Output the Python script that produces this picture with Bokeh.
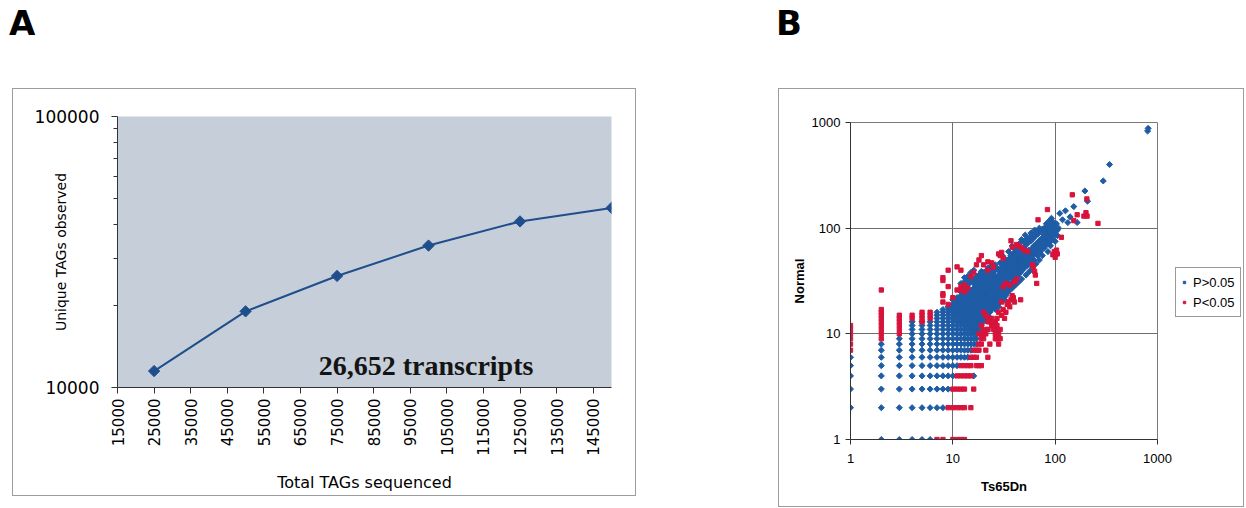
from math import pi
from bokeh.plotting import figure
from bokeh.models import (Range1d, FixedTicker, NumeralTickFormatter, Label, Legend,
                          LegendItem, Div, Spacer)
from bokeh.layouts import row, column
from bokeh.embed import file_html
from bokeh.resources import INLINE

# ---------------- Panel A data ----------------
tags_sequenced = [25000, 50000, 75000, 100000, 125000, 150000]
unique_tags = [11500, 19100, 25800, 33400, 41000, 46000]
a_x_ticks = [15000, 25000, 35000, 45000, 55000, 65000, 75000, 85000, 95000,
             105000, 115000, 125000, 135000, 145000]
a_y_ticks = [10000, 100000]
a_y_minor = [20000, 30000, 40000, 50000, 60000, 70000, 80000, 90000]
a_note = "26,652 transcripts"
a_note_pos = (70000, 12070)

# ---------------- Panel B data ----------------
b_ticks = [1, 10, 100, 1000]

# integer-count grid, P>0.05 (row y : list of x)
blue_grid = [
    (1, [2, 3, 4, 5, 6]),
    (2, [1, 2, 3, 4, 5, 6, 7, 8]),
    (3, [1, 2, 3, 4, 5, 6, 7, 8, 9]),
    (4, [1, 2, 3, 4, 5, 6, 7, 8, 9, 10, 16]),
    (5, [1, 2, 3, 4, 5, 6, 7, 8, 9, 10, 11]),
    (6, [1, 2, 3, 4, 5, 6, 7, 8, 9, 10, 11, 12, 13, 14]),
    (7, [2, 3, 4, 5, 6, 7, 8, 9, 10, 11, 12, 13, 14, 15]),
    (8, [2, 3, 4, 5, 6, 7, 8, 9, 10, 11, 12, 13, 14, 15, 16, 17]),
    (9, [3, 4, 5, 6, 7, 8, 9, 10, 11, 12, 13, 14, 15, 16, 17]),
    (10, [4, 5, 6, 7, 8, 9, 10, 11, 12, 13, 14, 15, 16, 17]),
    (11, [4, 5, 6, 7, 8, 9, 10, 11, 12, 13, 14, 15, 16, 17]),
    (12, [4, 5, 6, 7, 8, 9, 10, 11, 12, 13, 14, 15, 16, 17, 18]),
    (13, [4, 5, 6, 7, 8, 9, 10, 11, 12, 13, 14, 15, 16, 17, 18]),
    (14, [7, 8, 9, 10, 11, 12, 13, 14, 15, 16, 17, 18, 19]),
    (15, [7, 8, 9, 10, 11, 12, 13, 14, 15, 16, 17, 18, 19, 20]),
    (16, [7, 8, 9, 10, 11, 12, 13, 14, 15, 16, 17, 18, 19, 20]),
    (17, [8, 9, 10, 11, 12, 13, 14, 15, 16, 17, 18, 19]),
]

# P>0.05 points above the integer grid
blue_cloud = [
    (9, 18), (10, 18), (11, 18), (12, 18), (13, 18), (14, 18), (15, 18), (16, 18), (17, 18),
    (10, 19), (11, 19), (12, 19), (13, 19), (14, 19), (15, 19), (17, 19), (18, 19),
    (11, 20), (12, 20), (13, 20), (14, 20), (16, 20), (18, 20), (19, 20),
    (10, 21), (12, 21), (13, 21), (15, 21), (17, 21), (20, 21),
    (11, 22), (13, 22), (14, 22), (16, 22), (19, 22), (20, 22),
    (12, 23), (14, 23), (15, 23), (18, 23), (21, 23),
    (13, 24), (15, 24), (16, 24), (20, 24), (22, 24),
    (12, 25), (14, 25), (17, 25), (19, 25), (21, 25), (23, 25),
    (15, 26), (18, 26), (22, 26), (24, 26), (13, 27), (16, 27), (20, 27), (25, 27),
    (17, 28), (19, 28), (23, 28), (26, 28), (14, 29), (18, 29), (21, 29), (27, 29),
    (16, 30), (20, 30), (24, 30), (28, 30), (19, 31), (22, 31), (29, 31),
    (17, 32), (25, 32), (31, 32), (21, 33), (23, 34), (27, 34), (32, 34),
    (20, 35), (26, 35), (33, 36), (24, 36), (29, 37), (35, 37), (22, 38), (36, 38),
    (25, 39), (28, 40), (31, 40), (38, 40), (27, 42), (40, 42), (30, 43), (33, 44),
    (42, 45), (26, 45), (35, 46), (29, 47), (45, 47), (32, 48), (38, 48), (34, 50),
    (47, 50), (36, 52), (40, 53), (50, 52), (31, 54), (37, 55), (42, 56), (39, 58),
    (44, 59), (55, 58), (35, 60), (46, 61), (60, 62), (41, 63), (48, 64), (43, 66),
    (50, 67), (65, 66), (38, 68), (52, 70), (70, 70), (45, 72), (55, 73), (49, 75),
    (58, 76), (47, 78), (53, 79), (61, 80), (56, 82), (64, 84), (51, 86), (60, 87),
    (68, 88), (58, 90), (66, 92), (72, 94), (63, 96), (75, 98), (70, 100), (80, 97),
    (78, 88), (85, 93), (88, 86), (92, 82), (95, 90), (82, 80), (90, 76), (76, 72),
    (16, 12), (17, 13), (18, 14), (19, 15), (20, 16), (17, 11), (18, 12), (19, 13),
    (21, 15), (22, 16), (23, 17), (24, 18), (25, 19), (26, 20), (27, 21), (28, 22),
    (30, 23), (32, 24), (35, 25), (38, 27), (41, 29), (44, 31), (47, 33), (52, 36),
    (56, 39), (60, 42), (65, 46), (70, 50), (75, 55), (85, 60), (90, 68), (100, 75),
    (105, 85), (17, 15), (18, 16), (19, 17), (21, 18), (22, 19), (24, 20), (26, 22),
    (28, 24), (30, 26), (33, 28), (36, 30), (39, 33), (43, 35), (46, 38), (49, 41),
    (53, 44), (57, 47), (62, 50), (67, 55), (72, 60), (78, 65), (83, 70), (88, 73),
    (95, 78), (16, 14), (18, 17), (20, 19), (23, 21), (25, 23), (27, 25), (29, 27),
    (31, 29), (34, 31), (37, 34), (41, 37), (44, 40), (48, 44), (52, 48), (56, 51),
    (59, 55), (63, 58), (68, 62), (74, 67), (80, 73), (86, 79), (92, 85), (98, 92),
    (78, 100), (82, 110), (88, 118), (92, 124), (95, 115), (100, 108),
    (95, 105), (98, 95), (90, 110), (85, 105), (100, 100), (103, 110), (111, 138),
    (118, 120), (126, 146), (133, 113), (140, 128), (152, 160), (164, 113),
    (195, 225), (207, 180), (295, 280), (340, 400), (800, 830), (810, 880),
]

# P>0.05 points filling the main band between 12 and 110 counts
blue_band = [
    (12, 30), (13, 31), (14, 33), (15, 31), (16, 33), (17, 35), (14, 35), (18, 36),
    (15, 38), (19, 39), (16, 40), (13, 34),
    (15, 12), (16, 11), (15, 13), (16, 13), (17, 12), (18, 11), (17, 14), (18, 13),
    (19, 12), (19, 14), (20, 13), (20, 15), (21, 14), (21, 16), (22, 15), (22, 17),
    (23, 16), (23, 18), (24, 17), (24, 19), (25, 18), (25, 21), (16, 16), (17, 16),
    (18, 18), (19, 18), (20, 17), (21, 17), (22, 18), (23, 19), (20, 20), (21, 20),
    (22, 21), (23, 22), (24, 22), (25, 24), (16, 23), (17, 24), (18, 22), (19, 24),
    (20, 25), (21, 26), (22, 27), (23, 27), (24, 28), (25, 29), (16, 26), (17, 27),
    (18, 28), (19, 29), (20, 28), (21, 31), (22, 30), (23, 32), (24, 33), (25, 34),
    (17, 30), (18, 31), (19, 33), (20, 32), (21, 35), (22, 34), (23, 37), (24, 38),
    (25, 36), (18, 34), (19, 36), (20, 38), (21, 39), (22, 42), (23, 41), (24, 44),
    (26, 40),
    (26, 17), (27, 19), (28, 18), (29, 20), (30, 21), (31, 22), (32, 21), (33, 23),
    (27, 23), (28, 21), (29, 24), (30, 25), (31, 24), (32, 27), (33, 26), (34, 27),
    (35, 28), (36, 27), (37, 29), (38, 30), (39, 31), (40, 29), (26, 25), (27, 27),
    (28, 28), (29, 29), (30, 30), (31, 31), (32, 31), (33, 33), (34, 33), (35, 34),
    (36, 35), (37, 36), (38, 36), (39, 38), (40, 38), (41, 40), (42, 39), (43, 41),
    (44, 43), (45, 42), (46, 44), (47, 45), (48, 46), (49, 47), (50, 48), (27, 31),
    (28, 33), (29, 33), (30, 35), (31, 36), (32, 38), (33, 39), (34, 40), (35, 41),
    (36, 43), (37, 42), (38, 44), (39, 45), (40, 47), (41, 48), (42, 50), (43, 51),
    (44, 52), (45, 54), (46, 55), (47, 57), (48, 56), (49, 58), (50, 60), (28, 36),
    (30, 38), (32, 41), (34, 43), (36, 46), (38, 47), (40, 50), (42, 52), (44, 55),
    (46, 58), (48, 60), (50, 63), (30, 46), (33, 49), (36, 50), (39, 52), (41, 56),
    (43, 58), (45, 62), (41, 44), (43, 46), (45, 50), (47, 52), (49, 54), (37, 48),
    (35, 44), (39, 41), (44, 37), (47, 40), (50, 43), (53, 46), (55, 48), (52, 50),
    (54, 52), (56, 55), (53, 57), (55, 62), (57, 60), (59, 64), (58, 58),
    (60, 56), (62, 60), (64, 62), (66, 64), (68, 66), (70, 66), (72, 70), (74, 72),
    (76, 75), (78, 78), (80, 79), (82, 84), (84, 86), (86, 88), (88, 90), (90, 92),
    (92, 94), (94, 96), (96, 98), (62, 68), (66, 72), (70, 76), (74, 80), (78, 84),
    (82, 90), (86, 96), (90, 100), (65, 58), (69, 60), (73, 64), (77, 68), (81, 74),
    (85, 76), (89, 80), (93, 84), (97, 88), (100, 90), (104, 95), (108, 100),
]

# P<0.05 points on the integer grid (column x : list of y) and (row y : list of x)
red_columns = [
    (1, [7, 8, 9, 10, 11, 12]),
    (2, [9, 10, 11, 12, 13, 14, 15, 16, 17, 26]),
    (3, [10, 11, 12, 13, 14, 15]),
    (4, [14, 15]),
    (5, [13, 14, 15, 16]),
    (6, [14, 15, 16]),
]
red_rows = [
    (1, [7, 8, 10, 11, 12, 13]),
    (2, [9, 10, 11, 12, 13, 15]),
    (3, [10, 11, 12, 13, 16]),
    (4, [11, 12, 13, 14, 15]),
    (5, [12, 13, 14, 15, 17, 18, 19]),
    (6, [15, 16, 17, 22]),
    (7, [16, 17, 18, 21]),
    (8, [18, 19, 23]),
    (9, [19, 20, 26, 27, 28]),
    (10, [18, 20, 21, 27, 28]),
    (11, [20, 22, 26, 29]),
    (12, [19, 25, 27]),
    (13, [22, 25, 26]),
    (14, [23, 24, 27]),
]
red_cloud = [
    (8, 20), (9, 19), (8, 23), (8, 24), (9, 28), (10, 22), (8, 32), (8, 34), (9, 40),
    (11, 43), (12, 40), (11, 26), (12, 26), (12, 28), (13, 29), (14, 27), (13, 25),
    (15, 35), (16, 38), (17, 45), (18, 50), (19, 55), (20, 45), (22, 40), (22, 48),
    (24, 47), (25, 43), (28, 57), (29, 55), (30, 59), (31, 52), (37, 76), (38, 66),
    (42, 70), (44, 68), (47, 65), (50, 62), (54, 60), (68, 120), (84, 150), (147, 207),
    (204, 189), (164, 134), (191, 130), (262, 111), (152, 118), (200, 140), (205, 130),
    (20, 16), (21, 15), (22, 14), (23, 13), (24, 12), (25, 11), (22, 11), (26, 10),
    (27, 9), (28, 8), (29, 9), (25, 13), (28, 16), (30, 15), (31, 17), (32, 14),
    (33, 16), (34, 19), (35, 20), (37, 21), (39, 22), (36, 18), (40, 20), (38, 23),
    (46, 21), (30, 20), (31, 28), (33, 30), (36, 29), (40, 31), (42, 33), (61, 43),
    (63, 39), (64, 36), (66, 30), (60, 45), (95, 56), (98, 60), (100, 58), (103, 62),
    (105, 57), (115, 82), (100, 53),
]
series_labels = ["P>0.05", "P<0.05"]

# ---------------- assemble point lists ----------------
blue_x, blue_y = [], []
for yv, xs in blue_grid:
    for xv in xs:
        blue_x.append(xv); blue_y.append(yv)
for xv, yv in blue_cloud + blue_band:
    blue_x.append(xv); blue_y.append(yv)

red_x, red_y = [], []
for xv, ys in red_columns:
    for yv in ys:
        red_x.append(xv); red_y.append(yv)
for yv, xs in red_rows:
    for xv in xs:
        red_x.append(xv); red_y.append(yv)
for xv, yv in red_cloud:
    red_x.append(xv); red_y.append(yv)

BLUE = "#1F5CA6"
RED = "#D7143C"
FONT_A = "DejaVu Sans"
FONT_B = "Liberation Sans"
FRAME = {"border": "1px solid #9c9c9c"}
blue_style = dict(marker="square", angle=pi / 4, size=4.3, fill_color=BLUE, line_color=BLUE)
red_style = dict(marker="square", size=4.3, fill_color=RED, line_color=RED)

# ---------------- Panel A ----------------
pA = figure(width=624, height=408, x_range=Range1d(15000, 150000),
            y_range=Range1d(10000, 100000), y_axis_type="log",
            output_backend="svg", toolbar_location=None, frame_align=False,
            min_border_left=104, min_border_right=26, min_border_top=27,
            min_border_bottom=110, background_fill_color="#C6CED9",
            border_fill_color="white", outline_line_color=None, styles=FRAME,
            margin=0)
pA.grid.visible = False
pA.line(tags_sequenced, unique_tags, line_color="#1F4E8C", line_width=2)
pA.scatter(tags_sequenced, unique_tags, marker="square", angle=pi / 4, size=8,
           fill_color="#1F4E8C", line_color="#1F4E8C")

pA.xaxis.ticker = FixedTicker(ticks=a_x_ticks, minor_ticks=[])
pA.yaxis.ticker = FixedTicker(ticks=a_y_ticks, minor_ticks=a_y_minor)
pA.xaxis.formatter = NumeralTickFormatter(format="0")
pA.yaxis.formatter = NumeralTickFormatter(format="0")
pA.xaxis.major_label_orientation = pi / 2
for ax in (pA.xaxis[0], pA.yaxis[0]):
    ax.axis_line_color = "#333333"
    ax.major_tick_line_color = "#333333"
    ax.minor_tick_line_color = "#333333"
    ax.major_tick_in = 0
    ax.major_tick_out = 6
    ax.minor_tick_in = 0
    ax.minor_tick_out = 4
    ax.major_label_text_font = FONT_A
    ax.major_label_text_color = "black"
    ax.axis_label_text_font = FONT_A
    ax.axis_label_text_font_style = "normal"
    ax.axis_label_text_color = "black"
pA.xaxis.major_label_text_font_size = "15px"
pA.yaxis.major_label_text_font_size = "17px"
pA.xaxis.major_label_standoff = 5
pA.yaxis.major_label_standoff = 12
pA.xaxis.axis_label = "Total TAGs sequenced"
pA.xaxis.axis_label_text_font_size = "16px"
pA.xaxis.axis_label_standoff = 14
pA.yaxis.axis_label = "Unique TAGs observed"
pA.yaxis.axis_label_text_font_size = "14px"
pA.yaxis.axis_label_standoff = -37
pA.add_layout(Label(x=a_note_pos[0], y=a_note_pos[1], text=a_note,
                    text_font="Liberation Serif", text_font_style="bold",
                    text_font_size="28px", text_color="#141414",
                    text_baseline="alphabetic", text_align="left"))

# ---------------- Panel B ----------------
pB = figure(width=394, height=417, x_axis_type="log", y_axis_type="log",
            x_range=Range1d(1, 1000), y_range=Range1d(1, 1000),
            output_backend="svg", toolbar_location=None, frame_align=False,
            min_border_left=71, min_border_right=16, min_border_top=33,
            min_border_bottom=67, background_fill_color="white",
            border_fill_color="white", outline_line_color="#7a7a7a", margin=0)
rb = pB.scatter(blue_x, blue_y, **blue_style)
rr = pB.scatter(red_x, red_y, **red_style)
for ax in (pB.xaxis[0], pB.yaxis[0]):
    ax.ticker = FixedTicker(ticks=b_ticks, minor_ticks=[])
    ax.formatter = NumeralTickFormatter(format="0")
    ax.axis_line_color = "#333333"
    ax.major_tick_line_color = "#333333"
    ax.minor_tick_line_color = None
    ax.major_tick_in = 0
    ax.major_tick_out = 5
    ax.major_label_text_font = FONT_B
    ax.major_label_text_font_size = "13px"
    ax.major_label_text_color = "black"
    ax.axis_label_text_font = FONT_B
    ax.axis_label_text_font_size = "13px"
    ax.axis_label_text_font_style = "bold"
    ax.axis_label_text_color = "black"
pB.xaxis.axis_label = "Ts65Dn"
pB.yaxis.axis_label = "Normal"
pB.xaxis.major_label_standoff = 9
pB.yaxis.major_label_standoff = 5
pB.xaxis.axis_label_standoff = 13
pB.yaxis.axis_label_standoff = 2
pB.grid.grid_line_color = "#6e6e6e"
pB.grid.grid_line_width = 1
pB.grid.minor_grid_line_color = None

# legend lives in a narrow companion figure to the right of panel B's plot;
# its two series use the same data, which lies outside this figure's view
pLeg = figure(width=70, height=417, x_range=Range1d(-3, -2), y_range=Range1d(-3, -2),
              x_axis_location=None, y_axis_location=None,
              output_backend="svg", toolbar_location=None, frame_align=False,
              min_border_left=0, min_border_right=0, min_border_top=0,
              min_border_bottom=0, background_fill_color="white",
              border_fill_color="white", outline_line_color=None, margin=0)
pLeg.grid.visible = False
kb = pLeg.scatter(blue_x, blue_y, **blue_style)
kr = pLeg.scatter(red_x, red_y, **red_style)
legend = Legend(items=[LegendItem(label=series_labels[0], renderers=[kb]),
                       LegendItem(label=series_labels[1], renderers=[kr])],
                location=(2, 189), orientation="vertical",
                label_text_font=FONT_B, label_text_font_size="13px",
                label_text_color="black",
                glyph_width=6, glyph_height=18, label_height=18,
                label_standoff=6, padding=5, spacing=2, margin=0,
                border_line_color="#333333", border_line_width=1,
                background_fill_color="white", background_fill_alpha=1.0)
pLeg.add_layout(legend)

# ---------------- layout ----------------
letter_css = "font-family:'DejaVu Sans';font-weight:bold;font-size:34px;line-height:34px;"
divA = Div(text=f"<div style=\"{letter_css}margin:6px 0 0 9px;\">A</div>",
           width=778, height=88, margin=0)
divB = Div(text=f"<div style=\"{letter_css}margin:6px 0 0 -2px;\">B</div>",
           width=466, height=88, margin=0)
top = row(divA, divB, spacing=0)
panelB = row(pB, pLeg, spacing=0, margin=0, styles=FRAME)
bottom = row(Spacer(width=12, height=10, margin=0), pA,
             Spacer(width=142, height=10, margin=0), panelB, spacing=0)
layout = column(top, bottom, spacing=0)

open("out.html", "w").write(file_html(layout, INLINE))
